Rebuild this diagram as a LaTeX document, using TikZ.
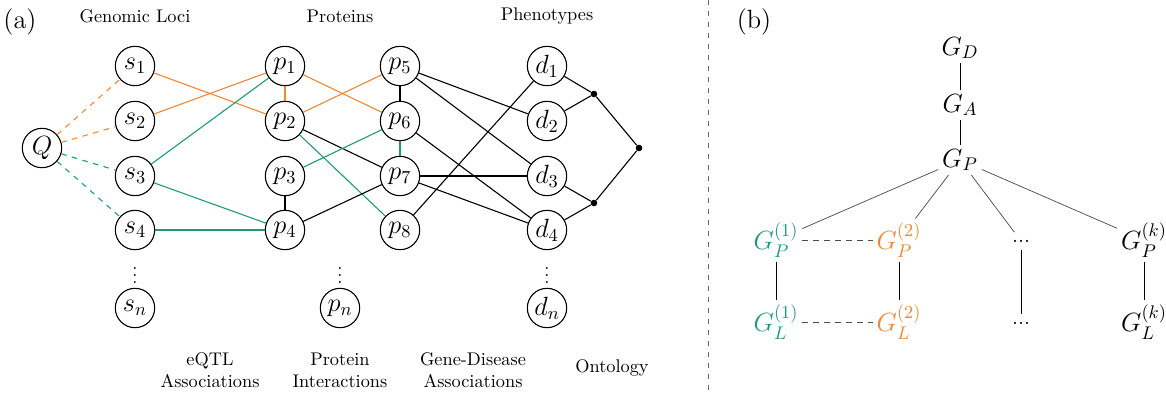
\documentclass[tikz,border=0pt]{standalone}
\usepackage{amsmath}
\usepackage{amssymb}
\usepackage{tikz}
\usetikzlibrary{shapes,arrows,positioning}
\definecolor{lociorange}{RGB}{244,134,48}
\definecolor{locigreen}{RGB}{27,158,110}

\begin{document}
\begin{tikzpicture}[x=0.0192cm,y=-0.0192cm,
	var/.style={shape=circle,draw,line width=0.6pt,minimum size=21.5pt,inner sep=0pt,font=\Large},
	junc/.style={shape=circle,fill,inner sep=0pt,minimum size=3.6pt},
	vdot/.style={inner sep=0pt},
	gnode/.style={font=\Large,inner sep=2pt},
	link/.style={line width=0.6pt},
	tree/.style={line width=0.4pt,black!70}]
	\useasboundingbox (0,0) rectangle (1166,393);

	% panel (a)
	\node[font=\Large] at (20,22) {(a)};
	\node at (135,16) {Genomic Loci};
	\node at (340,16) {Proteins};
	\node at (547,16) {Phenotypes};

	\node[var] (Q) at (42,148) {$Q$};
	
	\node[var] (s1) at (135,66) {$s_1$};
	\node[var] (s2) at (135,121) {$s_2$};
	\node[var] (s3) at (135,176) {$s_3$};
	\node[var] (s4) at (135,230) {$s_4$};
	\node[vdot] (sdots) at (135,270) {$\vdots$};
	\node[var] (sn) at (135,308) {$s_n$};
	
	\node[var] (p1) at (285,66) {$p_1$};
	\node[var] (p2) at (285,121) {$p_2$};
	\node[var] (p3) at (285,176) {$p_3$};
	\node[var] (p4) at (285,230) {$p_4$};
	\node[var] (p5) at (400,66) {$p_5$};
	\node[var] (p6) at (400,121) {$p_6$};
	\node[var] (p7) at (400,176) {$p_7$};
	\node[var] (p8) at (400,230) {$p_8$};
	\node[vdot] (pdots) at (340,270) {$\vdots$};
	\node[var] (pn) at (340,308) {$p_n$};
	
	\node[var] (d1) at (547,66) {$d_1$};
	\node[var] (d2) at (547,121) {$d_2$};
	\node[var] (d3) at (547,176) {$d_3$};
	\node[var] (d4) at (547,230) {$d_4$};
	\node[vdot] (ddots) at (547,270) {$\vdots$};
	\node[var] (dn) at (547,308) {$d_n$};
	
	\node[junc] (o1) at (594,94) {};
	\node[junc] (o2) at (594,203) {};
	\node[junc] (o3) at (639,148) {};

	\path [link,dashed,lociorange] (Q) edge (s1);
	\path [link,dashed,lociorange] (Q) edge (s2);
	\path [link,dashed,locigreen] (Q) edge (s3);
	\path [link,dashed,locigreen] (Q) edge (s4);
	
	\path [link,lociorange] (s1) edge (p2);
	\path [link,lociorange] (s2) edge (p1);
	\path [link,locigreen] (s3) edge (p1);
	\path [link,locigreen] (s3) edge (p4);
	\path [link,locigreen] (s4) edge (p4);
	
	\path [link,lociorange] (p1) edge (p2);
	\path [link,lociorange] (p1) edge (p6);
	\path [link,lociorange] (p2) edge (p5);
	\path [link] (p2) edge (p7);
	\path [link,locigreen] (p2) edge (p8);
	\path [link,locigreen] (p3) edge (p6);
	\path [link] (p3) edge (p4);
	\path [link] (p4) edge (p7);
	\path [link] (p5) edge (p6);
	\path [link,locigreen] (p6) edge (p7);
	
	\path [link] (p5) edge (d2);
	\path [link] (p5) edge (d3);
	\path [link] (p6) edge (d4);
	\path [link] (p7) edge (d3);
	\path [link] (p7) edge (d4);
	\path [link] (p8) edge (d1);
	
	\path [link] (d1) edge (o1);
	\path [link] (d2) edge (o1);
	\path [link] (d3) edge (o2);
	\path [link] (d4) edge (o2);
	\path [link] (o1) edge (o3);
	\path [link] (o2) edge (o3);

	\node[align=center] at (210,370) {eQTL\\Associations};
	\node[align=center] at (340,370) {Protein\\Interactions};
	\node[align=center] at (473,370) {Gene-Disease\\Associations};
	\node at (612,368) {Ontology};

	\draw[dashed,black!60] (708,0) -- (708,393);

	% panel (b)
	\node[font=\Large] at (754,22) {(b)};
	\node[gnode] (GD) at (960,48) {$G_D$};
	\node[gnode] (GA) at (960,105) {$G_A$};
	\node[gnode] (GP) at (960,160) {$G_P$};
	\node[gnode,text=locigreen] (GP1) at (776,240) {$G_P^{(1)}$};
	\node[gnode,text=lociorange] (GP2) at (899,240) {$G_P^{(2)}$};
	\node[inner sep=4pt,font=\large] (GPd) at (1021,241) {...};
	\node[gnode] (GPk) at (1144,240) {$G_P^{(k)}$};
	\node[gnode,text=locigreen] (GL1) at (776,322) {$G_L^{(1)}$};
	\node[gnode,text=lociorange] (GL2) at (899,322) {$G_L^{(2)}$};
	\node[inner sep=4pt,font=\large] (GLd) at (1021,323) {...};
	\node[gnode] (GLk) at (1144,322) {$G_L^{(k)}$};

	\path [-] (GD) edge (GA);
	\path [-] (GA) edge (GP);
	\path [tree] (GP) edge (GP1);
	\path [tree] (GP) edge (GP2);
	\path [tree] (GP) edge (GPd);
	\path [tree] (GP) edge (GPk);
	\path [-] (GP1) edge (GL1);
	\path [-] (GP2) edge (GL2);
	\path [-] (GPd) edge (GLd);
	\path [-] (GPk) edge (GLk);
	\path [tree,dashed] (GP1) edge (GP2);
	\path [tree,dashed] (GL1) edge (GL2);
\end{tikzpicture}
\end{document}
